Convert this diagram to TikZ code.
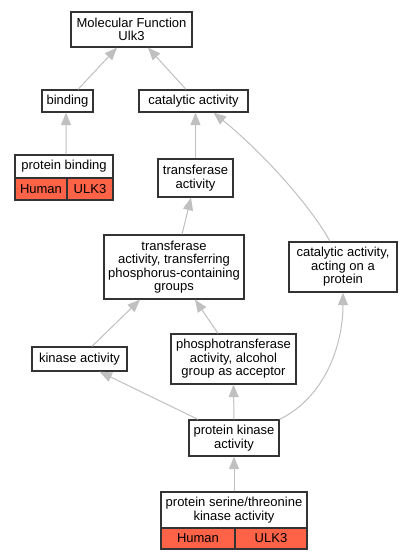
\documentclass[tikz,border=0pt]{standalone}
\usepackage{fontspec}
\setmainfont{Liberation Sans}
\usetikzlibrary{arrows.meta}
\definecolor{edgegray}{HTML}{C0C0C0}
\definecolor{tomatored}{HTML}{FF6347}
\definecolor{bordergray}{HTML}{333333}
\begin{document}
\begin{tikzpicture}[x=1bp,y=-1bp,
  box/.style={draw=bordergray,line width=1.3bp,fill=white,align=center,inner sep=0pt,
    font=\fontsize{13bp}{13.5bp}\selectfont},
  cell/.style={box,fill=tomatored},
  edge/.style={draw=edgegray,line width=1bp,-{Triangle[length=12.5bp,width=10bp,fill=edgegray]}}]
\useasboundingbox[fill=white] (0,0) rectangle (412,560);

\node[box,minimum width=121bp,minimum height=35bp] (mf) at (131.5,29.5) {Molecular Function\\Ulk3};
\node[box,minimum width=51bp,minimum height=22bp] (bind) at (67.5,101) {binding};
\node[box,minimum width=109bp,minimum height=22bp] (cat) at (193.5,101) {catalytic activity};
\node[box,minimum width=98bp,minimum height=23bp] (pb) at (64,166.5) {protein binding};
\node[cell,minimum width=52bp,minimum height=22bp] (pbh) at (41,189) {Human};
\node[cell,minimum width=46bp,minimum height=22bp] (pbu) at (90,189) {ULK3};
\node[box,minimum width=75bp,minimum height=38bp] (trans) at (195.5,178) {transferase\\activity};
\node[box,minimum width=140bp,minimum height=64bp] (tr) at (174,267) {transferase\\activity, transferring\\phosphorus-containing\\groups};
\node[box,minimum width=108bp,minimum height=50bp] (act) at (343,267) {catalytic activity,\\acting on a\\protein};
\node[box,minimum width=95bp,minimum height=24bp] (kin) at (79.5,359) {kinase activity};
\node[box,minimum width=125bp,minimum height=50bp] (ph) at (233.5,359) {phosphotransferase\\activity, alcohol\\group as acceptor};
\node[box,minimum width=90bp,minimum height=36bp] (pk) at (234,438) {protein kinase\\activity};
\node[box,minimum width=146bp,minimum height=36bp] (st) at (234,510) {protein serine/threonine\\kinase activity};
\node[cell,minimum width=74bp,minimum height=21bp] (sth) at (198,538.5) {Human};
\node[cell,minimum width=72bp,minimum height=21bp] (stu) at (271,538.5) {ULK3};

\draw[edge] ([xshift=10.5bp]bind.north) -- ([xshift=-14.5bp]mf.south);
\draw[edge] ([xshift=-7.5bp]cat.north) -- ([xshift=16.5bp]mf.south);
\draw[edge] ([xshift=2bp]pb.north) -- ([xshift=-1.5bp]bind.south);
\draw[edge] (trans.north) -- (trans.north |- cat.south);
\draw[edge] ([xshift=-13bp]act.north) .. controls (310,205) and (262,152) .. ([xshift=20bp]cat.south);
\draw[edge] ([xshift=8bp]tr.north) -- ([xshift=-4.5bp]trans.south);
\draw[edge] ([xshift=12.5bp]kin.north) -- ([xshift=-34bp]tr.south);
\draw[edge] ([xshift=-15.5bp]ph.north) -- ([xshift=21bp]tr.south);
\draw[edge] ([xshift=-36bp]pk.north) -- ([xshift=20bp]kin.south);
\draw[edge] (pk.north) -- (ph.south);
\draw[edge] (pk.north east) .. controls (325,397) and (343,345) .. (act.south);
\draw[edge] (st.north) -- (pk.south);
\end{tikzpicture}
\end{document}
